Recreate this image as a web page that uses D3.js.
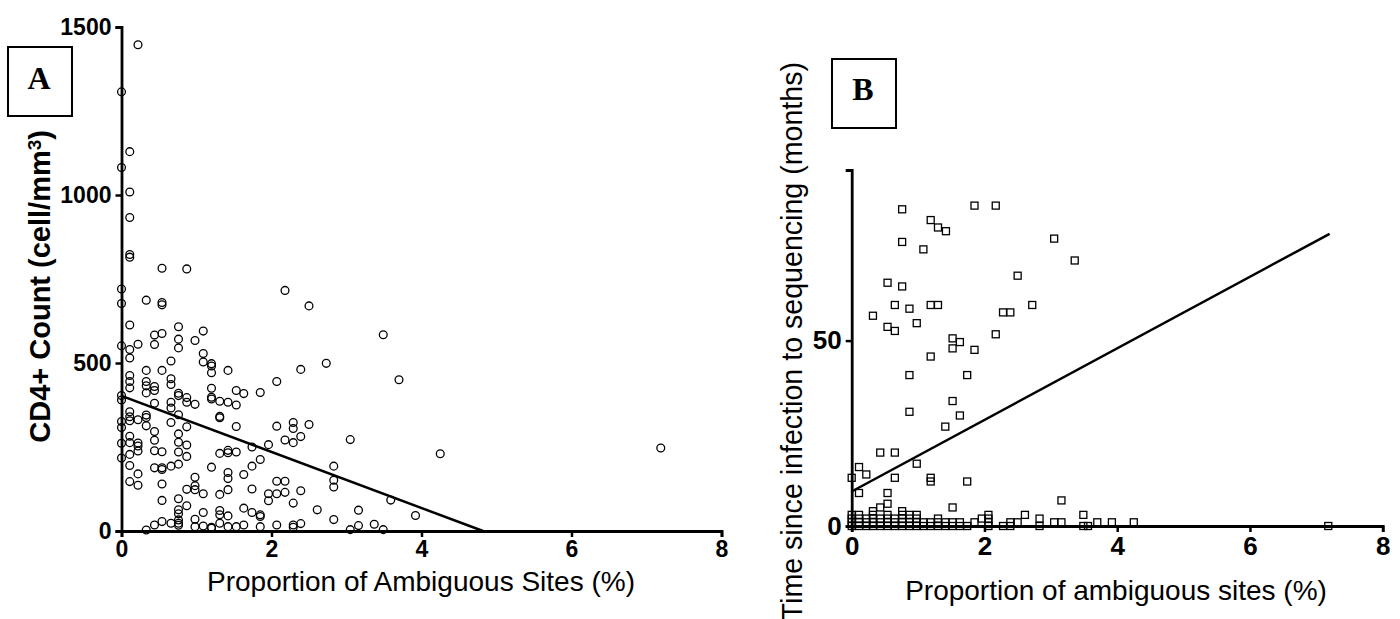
<!DOCTYPE html>
<html>
<head>
<meta charset="utf-8">
<script src="https://cdn.jsdelivr.net/npm/d3@7"></script>
<style>
  body { margin: 0; background: #fff; }
  svg { display: block; }
  .tick text { font-family: "Liberation Sans", Arial, sans-serif; font-weight: bold; fill: #000; }
</style>
</head>
<body>
<svg id="chart"></svg>
<script>
const width = 1400;
const height = 619;

// Panel A: proportion of ambiguous sites (%) vs CD4+ count
const cd4Points = [
  [0, 1307], [0, 1082], [0, 720], [0, 677], [0, 551], [0, 403], [0, 390], [0, 326], [0, 308], [0, 261], [0, 217],
  [0.11, 1129], [0.11, 1009], [0.11, 933], [0.11, 823], [0.11, 815], [0.11, 613], [0.11, 540], [0.11, 515],
  [0.11, 463], [0.11, 445], [0.11, 426], [0.11, 355], [0.11, 340], [0.11, 328], [0.11, 282], [0.11, 263],
  [0.11, 228], [0.11, 195], [0.11, 147],
  [0.22, 1447], [0.22, 556], [0.22, 331], [0.22, 262], [0.22, 253], [0.22, 238], [0.22, 170], [0.22, 136],
  [0.33, 687], [0.33, 478], [0.33, 445], [0.33, 432], [0.33, 411], [0.33, 345], [0.33, 338], [0.33, 313], [0.33, 3],
  [0.44, 583], [0.44, 555], [0.44, 430], [0.44, 418], [0.44, 380], [0.44, 296], [0.44, 270], [0.44, 239], [0.44, 188], [0.44, 18],
  [0.54, 782], [0.54, 680], [0.54, 673], [0.54, 588], [0.54, 478], [0.54, 236], [0.54, 188], [0.54, 183], [0.54, 140], [0.54, 91], [0.54, 28],
  [0.66, 506], [0.66, 453], [0.66, 436], [0.66, 383], [0.66, 366], [0.66, 323], [0.66, 193], [0.66, 23],
  [0.76, 608], [0.76, 571], [0.76, 545], [0.76, 410], [0.76, 403], [0.76, 346], [0.76, 289], [0.76, 264],
  [0.76, 235], [0.76, 199], [0.76, 96], [0.76, 63], [0.76, 51], [0.76, 33], [0.76, 23], [0.76, 17],
  [0.87, 780], [0.87, 397], [0.87, 383], [0.87, 310], [0.87, 256], [0.87, 222], [0.87, 124], [0.87, 75],
  [0.98, 567], [0.98, 377], [0.98, 160], [0.98, 135], [0.98, 123], [0.98, 35], [0.98, 13],
  [1.09, 595], [1.09, 528], [1.09, 503], [1.09, 111], [1.09, 55], [1.09, 15],
  [1.20, 498], [1.20, 491], [1.20, 471], [1.20, 425], [1.20, 398], [1.20, 393], [1.20, 190], [1.20, 11], [1.20, 8],
  [1.31, 386], [1.31, 341], [1.31, 337], [1.31, 231], [1.31, 109], [1.31, 61], [1.31, 48], [1.31, 23],
  [1.42, 478], [1.42, 383], [1.42, 240], [1.42, 233], [1.42, 174], [1.42, 156], [1.42, 123], [1.42, 45], [1.42, 13],
  [1.53, 418], [1.53, 375], [1.53, 311], [1.53, 235], [1.53, 13],
  [1.63, 409], [1.63, 168], [1.63, 68], [1.63, 18],
  [1.74, 250], [1.74, 193], [1.74, 125], [1.74, 55],
  [1.85, 412], [1.85, 213], [1.85, 48], [1.85, 43], [1.85, 13],
  [1.96, 257], [1.96, 111], [1.96, 90],
  [2.07, 445], [2.07, 312], [2.07, 148], [2.07, 111], [2.07, 18],
  [2.18, 716], [2.18, 271], [2.18, 148], [2.18, 115],
  [2.29, 323], [2.29, 305], [2.29, 263], [2.29, 83], [2.29, 18], [2.29, 11],
  [2.39, 481], [2.39, 281], [2.39, 120], [2.39, 22],
  [2.50, 670], [2.50, 317], [2.61, 63], [2.73, 499],
  [2.83, 193], [2.83, 151], [2.83, 131], [2.83, 34],
  [3.05, 272], [3.05, 4], [3.16, 62], [3.16, 16], [3.37, 20], [3.49, 584], [3.49, 4],
  [3.59, 92], [3.70, 450], [3.92, 46], [4.25, 230], [7.19, 247]
];
const cd4Fit = [[0, 402], [4.82, 0]];
const cd4Ticks = [0, 500, 1000, 1500];

// Panel B: proportion of ambiguous sites (%) vs months since infection
const monthPoints = [
  [0.76, 85.4], [1.85, 86.4], [2.17, 86.4], [1.19, 82.5], [1.30, 80.5], [1.42, 79.5], [3.05, 77.5],
  [0.76, 76.6], [1.08, 74.6], [3.36, 71.6], [2.50, 67.5], [0.54, 65.6], [0.76, 64.6], [0.65, 59.6],
  [0.87, 58.6], [1.19, 59.6], [1.30, 59.6], [2.28, 57.6], [2.39, 57.6], [2.72, 59.6], [0.32, 56.7],
  [0.54, 53.7], [0.65, 52.6], [0.98, 54.7], [2.17, 51.7], [1.52, 50.6], [1.63, 49.6], [1.52, 47.9],
  [1.85, 47.5], [1.19, 45.7], [0.87, 40.7], [1.74, 40.7], [1.52, 33.7], [0.87, 30.8], [1.63, 29.8],
  [1.41, 26.8], [0.43, 19.8], [0.65, 19.8], [0.98, 16.8], [0.11, 15.9], [0.22, 13.9], [0, 13.0],
  [0.65, 13.0], [1.19, 13.0], [1.19, 12.0], [1.74, 12.0], [0.11, 8.9], [0.54, 8.9], [0.54, 6.0],
  [0.43, 5.0], [1.52, 5.0], [3.16, 6.9], [0.32, 4.0], [0.76, 4.0],
  // the crowded row just above zero
  [0, 3], [0, 2], [0, 1], [0, 0], [0.11, 3], [0.11, 2], [0.11, 1], [0.11, 0],
  [0.22, 2], [0.22, 1], [0.22, 0], [0.32, 3], [0.32, 2], [0.32, 1], [0.32, 0],
  [0.43, 2], [0.43, 1], [0.43, 0], [0.54, 3], [0.54, 2], [0.54, 1], [0.54, 0],
  [0.65, 2], [0.65, 1], [0.65, 0], [0.76, 3], [0.76, 2], [0.76, 1], [0.76, 0],
  [0.87, 3], [0.87, 2], [0.87, 1], [0.87, 0], [0.98, 3], [0.98, 2], [0.98, 1], [0.98, 0],
  [1.08, 1], [1.08, 0], [1.19, 1], [1.19, 0], [1.30, 2], [1.30, 1], [1.30, 0],
  [1.41, 1], [1.41, 0], [1.52, 1], [1.52, 0], [1.63, 1], [1.63, 0], [1.74, 0], [1.85, 1], [1.96, 2],
  [2.06, 3], [2.06, 2], [2.06, 1], [2.06, 0], [2.28, 0], [2.39, 1], [2.39, 0], [2.50, 1], [2.61, 3],
  [2.83, 2], [2.83, 0], [3.05, 1], [3.16, 1], [3.49, 3], [3.49, 0], [3.56, 0], [3.70, 1], [3.92, 1],
  [4.25, 1], [7.18, 0]
];
const monthFit = [[0, 9.3], [7.2, 78.8]];
const monthTicks = [0, 50];

const xTicks = [0, 2, 4, 6, 8];

const svg = d3.select("#chart")
  .attr("width", width)
  .attr("height", height);

const sans = "'Liberation Sans', Arial, sans-serif";
const serif = "'Liberation Serif', 'Times New Roman', serif";

// --- PANEL A ---
const xA = d3.scaleLinear().domain([0, 8]).range([121.5, 721.5]);
const yA = d3.scaleLinear().domain([0, 1500]).range([531, 27]);

const gA = svg.append("g");

gA.selectAll("circle")
  .data(cd4Points)
  .join("circle")
  .attr("cx", d => xA(d[0]))
  .attr("cy", d => yA(d[1]))
  .attr("r", 3.9)
  .attr("fill", "none")
  .attr("stroke", "#000")
  .attr("stroke-width", 1.3);

gA.append("path")
  .datum(cd4Fit)
  .attr("d", d3.line().x(d => xA(d[0])).y(d => yA(d[1])))
  .attr("fill", "none")
  .attr("stroke", "#000")
  .attr("stroke-width", 2.5);

const axA_x = gA.append("g")
  .attr("transform", `translate(0,${yA(0)})`)
  .call(d3.axisBottom(xA).tickValues(xTicks).tickFormat(d3.format("d")).tickSizeOuter(0).tickSize(6).tickPadding(4));
const axA_y = gA.append("g")
  .attr("transform", `translate(${xA(0)},0)`)
  .call(d3.axisLeft(yA).tickValues(cd4Ticks).tickFormat(d3.format("d")).tickSizeOuter(0).tickSize(6).tickPadding(4));

[axA_x, axA_y].forEach(ax => {
  ax.select(".domain").attr("stroke", "#000").attr("stroke-width", 2.8);
  ax.selectAll(".tick line").attr("stroke", "#000").attr("stroke-width", 2.5);
  ax.selectAll(".tick text").style("font-size", "23px");
});

gA.append("text")
  .attr("transform", "translate(50,130) rotate(-90)")
  .attr("text-anchor", "end")
  .style("font-family", sans)
  .style("font-weight", "bold")
  .style("font-size", "29px")
  .call(t => {
    t.append("tspan").text("CD4+ Count (cell/mm");
    t.append("tspan").text("3").attr("dy", "-0.5em").style("font-size", "19px");
    t.append("tspan").text(")").attr("dy", "0.33em");
  });

gA.append("text")
  .attr("x", 421)
  .attr("y", 591)
  .attr("text-anchor", "middle")
  .style("font-family", sans)
  .style("font-size", "28px")
  .text("Proportion of Ambiguous Sites (%)");

gA.append("rect")
  .attr("x", 8).attr("y", 47).attr("width", 64).attr("height", 69)
  .attr("fill", "#fff").attr("stroke", "#000").attr("stroke-width", 2);
gA.append("text")
  .attr("x", 39).attr("y", 89)
  .attr("text-anchor", "middle")
  .style("font-family", serif)
  .style("font-weight", "bold")
  .style("font-size", "32px")
  .text("A");

// --- PANEL B ---
const xB = d3.scaleLinear().domain([0, 8]).range([851.7, 1382.7]);
const yB = d3.scaleLinear().domain([0, 96]).range([526, 170]);
const side = 7;

const gB = svg.append("g");

gB.selectAll("rect.pt")
  .data(monthPoints)
  .join("rect")
  .attr("class", "pt")
  .attr("x", d => xB(d[0]) - side / 2)
  .attr("y", d => yB(d[1]) - side / 2)
  .attr("width", side)
  .attr("height", side)
  .attr("fill", "none")
  .attr("stroke", "#000")
  .attr("stroke-width", 1.3);

gB.append("path")
  .datum(monthFit)
  .attr("d", d3.line().x(d => xB(d[0])).y(d => yB(d[1])))
  .attr("fill", "none")
  .attr("stroke", "#000")
  .attr("stroke-width", 2.5);

const axB_x = gB.append("g")
  .attr("transform", `translate(0,${yB(0)})`)
  .call(d3.axisBottom(xB).tickValues(xTicks).tickFormat(d3.format("d")).tickSizeOuter(0).tickSize(6).tickPadding(5));
const axB_y = gB.append("g")
  .attr("transform", `translate(${xB(0)},0)`)
  .call(d3.axisLeft(yB).tickValues(monthTicks).tickFormat(d3.format("d")).tickSizeOuter(0).tickSize(6).tickPadding(4));

[axB_x, axB_y].forEach(ax => {
  ax.select(".domain").attr("stroke", "#000").attr("stroke-width", 2.8);
  ax.selectAll(".tick line").attr("stroke", "#000").attr("stroke-width", 2.5);
  ax.selectAll(".tick text").style("font-size", "26px");
});

gB.append("text")
  .attr("transform", "translate(802,62) rotate(-90)")
  .attr("text-anchor", "end")
  .style("font-family", sans)
  .style("font-size", "28.6px")
  .text("Time since infection to sequencing (months)");

gB.append("text")
  .attr("x", 1116)
  .attr("y", 600)
  .attr("text-anchor", "middle")
  .style("font-family", sans)
  .style("font-size", "28px")
  .text("Proportion of ambiguous sites (%)");

gB.append("rect")
  .attr("x", 832).attr("y", 59).attr("width", 64).attr("height", 69)
  .attr("fill", "#fff").attr("stroke", "#000").attr("stroke-width", 2);
gB.append("text")
  .attr("x", 863).attr("y", 100)
  .attr("text-anchor", "middle")
  .style("font-family", serif)
  .style("font-weight", "bold")
  .style("font-size", "32px")
  .text("B");
</script>
</body>
</html>
